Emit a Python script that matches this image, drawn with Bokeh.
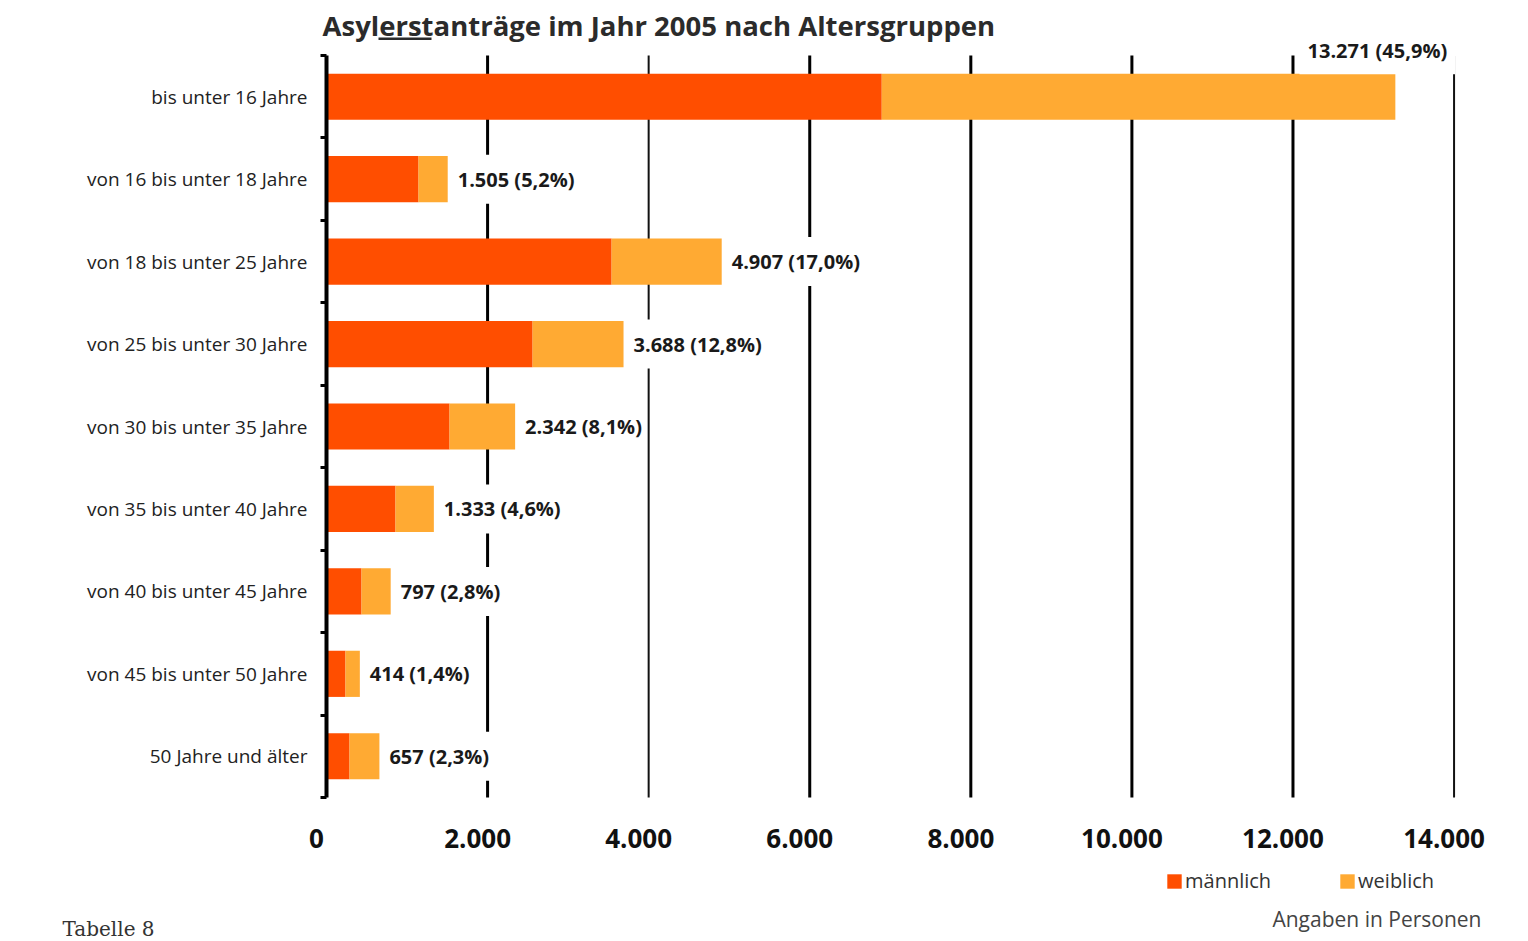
from bokeh.plotting import figure
from bokeh.models import ColumnDataSource, Range1d, FixedTicker, Label, BoxAnnotation, LinearAxis
from bokeh.core.properties import value
from bokeh.embed import file_html
from bokeh.resources import INLINE

# ---------------- data ----------------
categories = [
    "bis unter 16 Jahre",
    "von 16 bis unter 18 Jahre",
    "von 18 bis unter 25 Jahre",
    "von 25 bis unter 30 Jahre",
    "von 30 bis unter 35 Jahre",
    "von 35 bis unter 40 Jahre",
    "von 40 bis unter 45 Jahre",
    "von 45 bis unter 50 Jahre",
    "50 Jahre und älter",
]
maennlich = [6894, 1143, 3540, 2559, 1528, 857, 435, 236, 286]
weiblich = [6377, 362, 1367, 1129, 814, 476, 362, 178, 371]
totals = [13271, 1505, 4907, 3688, 2342, 1333, 797, 414, 657]
percent = [45.9, 5.2, 17.0, 12.8, 8.1, 4.6, 2.8, 1.4, 2.3]
x_ticks = [0, 2000, 4000, 6000, 8000, 10000, 12000, 14000]
x_tick_labels = ["0", "2.000", "4.000", "6.000", "8.000", "10.000", "12.000", "14.000"]
series_names = ["männlich", "weiblich"]
title_text = "Asylerstanträge im Jahr 2005 nach Altersgruppen"
unit_note = "Angaben in Personen"
table_note = "Tabelle 8"

# ---------------- layout / styling ----------------
W, H = 1520, 940
X0_PX = 326          # pixel of value 0
PX_PER_UNIT = 0.08054
TOP_PX, BOT_PX = 55, 797   # vertical extent of the category axis
LABEL_SHIFT_PX = 10        # x tick labels sit a little left of their grid lines
C_M = "#FF4E00"
C_W = "#FFAA33"
FONT = "Open Sans"


def de_num(v):
    return f"{v:,}".replace(",", ".")


def de_pct(v):
    return f"{v:.1f}".replace(".", ",")


def sy(py):  # screen y (from bottom of frame) for a pixel row from top
    return H - py


n = len(categories)
row_px = (BOT_PX - TOP_PX) / n
ypos = [n - 1 - i for i in range(n)]
labels = [f"{de_num(t)} ({de_pct(pc)}%)" for t, pc in zip(totals, percent)]

src = ColumnDataSource(dict(y=ypos, m=maennlich, w=weiblich, total=totals, label=labels))
src_rest = ColumnDataSource(dict(y=ypos[1:], total=totals[1:], label=labels[1:]))

x_start = -X0_PX / PX_PER_UNIT
x_end = (W - X0_PX) / PX_PER_UNIT
y_end = (n - 0.5) + TOP_PX / row_px
y_start = -0.5 - (H - BOT_PX) / row_px
shift = LABEL_SHIFT_PX / PX_PER_UNIT

p = figure(
    width=W, height=H,
    x_range=Range1d(x_start, x_end), y_range=Range1d(y_start, y_end),
    output_backend="svg", toolbar_location=None, title=None,
    min_border=0, x_axis_location=None,
)
p.extra_x_ranges = {"ticks": Range1d(x_start + shift, x_end + shift)}
p.outline_line_color = None
p.background_fill_color = "white"
p.border_fill_color = "white"
p.xgrid.visible = False
p.ygrid.visible = False

# vertical grid lines (drawn through the scales, limited to the category band)
thick = [t for t in x_ticks[1:] if t not in (4000, 14000)]
thin = [t for t in x_ticks[1:] if t in (4000, 14000)]
p.segment(x0=thick, y0=[-0.5] * len(thick), x1=thick, y1=[n - 0.5] * len(thick),
          line_color="black", line_width=3)
p.segment(x0=thin, y0=[-0.5] * len(thin), x1=thin, y1=[n - 0.5] * len(thin),
          line_color="#111111", line_width=2)

# x axis
xa = LinearAxis(x_range_name="ticks", fixed_location=-0.5)
xa.ticker = FixedTicker(ticks=x_ticks)
xa.major_label_overrides = {t: l for t, l in zip(x_ticks, x_tick_labels)}
xa.axis_line_color = None
xa.major_tick_line_color = None
xa.minor_tick_line_color = None
xa.major_label_text_font = FONT
xa.major_label_text_font_style = "bold"
xa.major_label_text_font_size = "26px"
xa.major_label_text_color = "#111111"
xa.major_label_standoff = 25
p.add_layout(xa, "below")

# y axis
ya = p.yaxis[0]
ya.fixed_location = 0
ya.bounds = (-0.5, n - 0.5)
ya.ticker = FixedTicker(ticks=ypos, minor_ticks=[k - 0.5 for k in range(n + 1)])
ya.major_label_overrides = {y: c for y, c in zip(ypos, categories)}
ya.axis_line_color = "black"
ya.axis_line_width = 4
ya.major_tick_out = 0
ya.major_tick_in = 0
ya.minor_tick_out = 6
ya.minor_tick_in = 0
ya.minor_tick_line_width = 3
ya.minor_tick_line_color = "black"
ya.major_label_text_font = FONT
ya.major_label_text_font_size = "19px"
ya.major_label_text_color = "#222222"
ya.major_label_standoff = 13

# bars
p.hbar_stack(["m", "w"], y="y", height=0.56, color=[C_M, C_W], line_color=None,
             source=src, legend_label=series_names)

# value labels
p.text(x="total", y="y", text="label", source=src_rest, x_offset=6,
       text_align="left", text_baseline="middle",
       text_font=value(FONT), text_font_style="bold", text_font_size="20px",
       text_color="#1a1a1a", background_fill_color="white", padding=(4, 11))

top = Label(x=totals[0], y=ypos[0], text=labels[0], x_offset=-18, y_offset=46,
            text_align="center", text_baseline="middle",
            text_font=FONT, text_font_style="bold", text_font_size="20px",
            text_color="#1a1a1a", background_fill_color="white", padding=(8, 10))
p.add_layout(top)

# title with underlined "erst"
p.add_layout(Label(x=322, y=sy(25), x_units="screen", y_units="screen", text=title_text,
                   text_align="left", text_baseline="middle",
                   text_font=FONT, text_font_style="bold", text_font_size="27.5px",
                   text_color="#2b2b2b"))
p.add_layout(BoxAnnotation(left=378, right=431, bottom=sy(39.5), top=sy(37),
                           left_units="screen", right_units="screen",
                           bottom_units="screen", top_units="screen",
                           fill_color="#2b2b2b", fill_alpha=1, line_color=None))

# notes
p.add_layout(Label(x=1481, y=sy(918), x_units="screen", y_units="screen", text=unit_note,
                   text_align="right", text_baseline="middle",
                   text_font=FONT, text_font_size="21px", text_color="#444444"))
p.add_layout(Label(x=62, y=sy(928), x_units="screen", y_units="screen", text=table_note,
                   text_align="left", text_baseline="middle",
                   text_font="DejaVu Serif", text_font_size="20px", text_color="#333333"))

# legend
lg = p.legend[0]
lg.orientation = "horizontal"
lg.location = (1165, sy(894))
lg.background_fill_alpha = 0
lg.border_line_color = None
lg.padding = 0
lg.margin = 0
lg.spacing = 67
lg.glyph_width = 18
lg.glyph_height = 18
lg.label_height = 18
lg.label_standoff = 2
lg.label_text_font = FONT
lg.label_text_font_size = "20px"
lg.label_text_color = "#333333"

open("out.html", "w").write(file_html(p, INLINE))
